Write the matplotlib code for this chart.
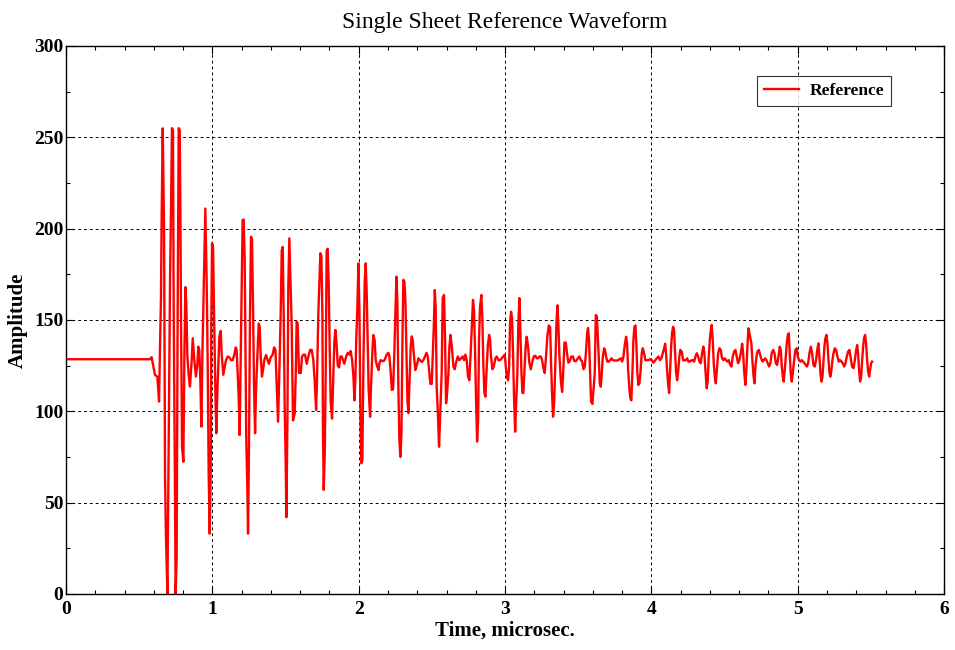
import matplotlib
matplotlib.use("Agg")
import matplotlib.pyplot as plt
from matplotlib.ticker import MultipleLocator

# waveform (time in microsec, amplitude)
time_us = [
    0.0, 0.574, 0.585, 0.608, 0.624, 0.636, 0.642, 0.649, 0.654, 0.661,
    0.670, 0.677, 0.683, 0.693, 0.702, 0.711, 0.718, 0.724, 0.731, 0.736,
    0.743, 0.749, 0.756, 0.763, 0.770, 0.777, 0.781, 0.786, 0.793, 0.802,
    0.809, 0.816, 0.822, 0.829, 0.838, 0.847, 0.859, 0.866, 0.877, 0.888,
    0.898, 0.904, 0.911, 0.918, 0.925, 0.932, 0.939, 0.945, 0.952, 0.961,
    0.968, 0.975, 0.982, 0.989, 0.993, 0.998, 1.005, 1.011, 1.021, 1.027,
    1.034, 1.041, 1.048, 1.057, 1.064, 1.075, 1.084, 1.093, 1.105, 1.116,
    1.128, 1.139, 1.150, 1.160, 1.166, 1.173, 1.180, 1.187, 1.194, 1.201,
    1.207, 1.214, 1.221, 1.226, 1.232, 1.239, 1.244, 1.251, 1.257, 1.264,
    1.271, 1.278, 1.285, 1.292, 1.298, 1.308, 1.317, 1.324, 1.330, 1.339,
    1.349, 1.355, 1.367, 1.378, 1.387, 1.399, 1.412, 1.422, 1.431, 1.440,
    1.449, 1.458, 1.467, 1.474, 1.481, 1.488, 1.494, 1.501, 1.506, 1.513,
    1.519, 1.526, 1.542, 1.551, 1.563, 1.570, 1.576, 1.583, 1.592, 1.604,
    1.613, 1.622, 1.633, 1.645, 1.656, 1.668, 1.679, 1.690, 1.699, 1.709,
    1.715, 1.724, 1.731, 1.738, 1.745, 1.752, 1.756, 1.761, 1.768, 1.775,
    1.781, 1.788, 1.795, 1.802, 1.809, 1.818, 1.825, 1.834, 1.841, 1.847,
    1.857, 1.866, 1.875, 1.884, 1.893, 1.902, 1.914, 1.925, 1.936, 1.945,
    1.955, 1.964, 1.971, 1.977, 1.984, 1.991, 1.998, 2.005, 2.012, 2.018,
    2.025, 2.032, 2.041, 2.048, 2.055, 2.062, 2.068, 2.078, 2.084, 2.094,
    2.100, 2.109, 2.116, 2.125, 2.135, 2.141, 2.150, 2.160, 2.171, 2.182,
    2.191, 2.203, 2.210, 2.219, 2.226, 2.235, 2.244, 2.251, 2.258, 2.264,
    2.271, 2.278, 2.285, 2.292, 2.299, 2.305, 2.312, 2.319, 2.326, 2.333,
    2.340, 2.346, 2.355, 2.362, 2.369, 2.378, 2.387, 2.396, 2.408, 2.419,
    2.431, 2.442, 2.453, 2.463, 2.472, 2.481, 2.490, 2.499, 2.506, 2.513,
    2.520, 2.526, 2.533, 2.542, 2.549, 2.567, 2.574, 2.583, 2.590, 2.597,
    2.604, 2.613, 2.620, 2.627, 2.636, 2.647, 2.656, 2.665, 2.677, 2.688,
    2.699, 2.711, 2.720, 2.729, 2.738, 2.747, 2.756, 2.766, 2.775, 2.781,
    2.788, 2.795, 2.802, 2.809, 2.816, 2.822, 2.829, 2.838, 2.845, 2.852,
    2.859, 2.866, 2.873, 2.882, 2.891, 2.898, 2.904, 2.914, 2.923, 2.934,
    2.943, 2.955, 2.966, 2.977, 2.989, 2.998, 3.005, 3.012, 3.021, 3.028,
    3.034, 3.041, 3.048, 3.055, 3.062, 3.069, 3.075, 3.084, 3.091, 3.098,
    3.105, 3.112, 3.119, 3.125, 3.132, 3.141, 3.148, 3.157, 3.166, 3.176,
    3.185, 3.196, 3.207, 3.217, 3.226, 3.235, 3.244, 3.253, 3.262, 3.271,
    3.280, 3.289, 3.299, 3.308, 3.315, 3.321, 3.328, 3.335, 3.344, 3.351,
    3.358, 3.365, 3.371, 3.381, 3.390, 3.397, 3.406, 3.415, 3.424, 3.433,
    3.442, 3.453, 3.463, 3.474, 3.485, 3.497, 3.508, 3.517, 3.526, 3.536,
    3.545, 3.554, 3.561, 3.567, 3.574, 3.581, 3.588, 3.597, 3.613, 3.620,
    3.627, 3.633, 3.640, 3.647, 3.654, 3.661, 3.668, 3.677, 3.683, 3.690,
    3.699, 3.709, 3.718, 3.727, 3.736, 3.747, 3.759, 3.770, 3.781, 3.791,
    3.800, 3.809, 3.818, 3.827, 3.834, 3.841, 3.850, 3.857, 3.863, 3.870,
    3.877, 3.884, 3.891, 3.898, 3.904, 3.911, 3.918, 3.925, 3.934, 3.941,
    3.950, 3.959, 3.968, 3.980, 3.991, 4.002, 4.014, 4.025, 4.037, 4.048,
    4.059, 4.068, 4.078, 4.087, 4.094, 4.100, 4.107, 4.114, 4.121, 4.128,
    4.135, 4.141, 4.148, 4.155, 4.162, 4.169, 4.176, 4.182, 4.191, 4.198,
    4.207, 4.217, 4.226, 4.235, 4.244, 4.253, 4.262, 4.271, 4.283, 4.292,
    4.301, 4.310, 4.319, 4.328, 4.337, 4.346, 4.355, 4.362, 4.369, 4.378,
    4.385, 4.392, 4.399, 4.406, 4.412, 4.419, 4.426, 4.433, 4.440, 4.447,
    4.456, 4.465, 4.474, 4.483, 4.492, 4.501, 4.510, 4.519, 4.529, 4.538,
    4.547, 4.556, 4.565, 4.574, 4.583, 4.592, 4.601, 4.611, 4.620, 4.627,
    4.633, 4.642, 4.649, 4.656, 4.663, 4.670, 4.683, 4.690, 4.697, 4.704,
    4.711, 4.718, 4.725, 4.734, 4.740, 4.750, 4.759, 4.768, 4.777, 4.786,
    4.795, 4.804, 4.813, 4.822, 4.832, 4.841, 4.850, 4.859, 4.868, 4.877,
    4.884, 4.891, 4.898, 4.904, 4.911, 4.918, 4.925, 4.932, 4.939, 4.945,
    4.952, 4.959, 4.966, 4.975, 4.984, 4.993, 5.000, 5.009, 5.018, 5.027,
    5.037, 5.046, 5.055, 5.062, 5.071, 5.080, 5.089, 5.098, 5.107, 5.116,
    5.125, 5.135, 5.141, 5.148, 5.155, 5.162, 5.169, 5.176, 5.182, 5.189,
    5.196, 5.203, 5.210, 5.217, 5.223, 5.230, 5.237, 5.244, 5.253, 5.262,
    5.271, 5.280, 5.289, 5.299, 5.308, 5.317, 5.326, 5.335, 5.344, 5.353,
    5.362, 5.371, 5.381, 5.390, 5.399, 5.406, 5.412, 5.419, 5.426, 5.433,
    5.440, 5.447, 5.453, 5.460, 5.467, 5.474, 5.481, 5.488, 5.494, 5.501,
    5.508,
]
amplitude = [
    128.5, 128.5, 129.6, 119.9, 119.0, 105.3, 133.6, 161.9, 208.4, 254.9,
    200.0, 62.4, 31.4, 0.0, 86.0, 172.0, 213.0, 255.0, 254.0, 153.7,
    77.0, 0.0, 18.6, 155.0, 255.0, 254.0, 217.5, 150.0, 80.6, 72.4,
    131.0, 168.0, 159.0, 131.0, 120.0, 113.5, 128.0, 140.0, 128.0, 119.0,
    126.0, 135.4, 133.6, 117.0, 91.6, 131.0, 159.0, 181.0, 211.0, 172.0,
    128.0, 66.0, 33.0, 68.0, 150.0, 192.0, 190.0, 157.0, 110.0, 88.0,
    110.0, 126.0, 141.0, 144.0, 131.0, 120.0, 124.0, 128.0, 130.0, 129.5,
    128.0, 128.0, 131.0, 135.0, 133.6, 121.0, 108.0, 87.0, 131.0, 170.0,
    204.7, 205.0, 183.0, 135.0, 84.0, 59.0, 33.0, 86.0, 150.0, 195.6,
    194.0, 157.0, 113.5, 88.0, 110.0, 131.0, 148.0, 146.0, 131.0, 119.0,
    124.0, 128.0, 130.8, 128.0, 126.0, 129.6, 131.0, 135.0, 133.6, 113.5,
    94.3, 122.0, 153.7, 188.0, 190.0, 150.0, 104.0, 73.0, 42.0, 95.0,
    168.0, 194.7, 148.0, 95.0, 99.0, 121.0, 149.0, 148.0, 121.0, 121.0,
    130.0, 131.0, 131.0, 126.0, 130.0, 133.6, 133.6, 128.0, 117.0, 100.7,
    117.0, 153.0, 170.0, 186.5, 185.0, 153.0, 88.0, 57.0, 77.0, 125.0,
    188.0, 189.0, 170.0, 133.6, 104.4, 96.0, 115.0, 139.0, 144.5, 139.0,
    125.0, 124.0, 130.0, 130.0, 128.0, 126.0, 130.0, 132.0, 131.0, 133.0,
    128.0, 119.0, 106.0, 117.0, 141.0, 157.0, 181.0, 155.0, 97.0, 71.5,
    73.0, 125.0, 171.0, 181.0, 164.0, 137.0, 112.0, 97.0, 113.0, 133.6,
    141.8, 139.0, 128.0, 125.0, 122.6, 126.0, 128.0, 127.5, 127.5, 129.0,
    131.0, 132.0, 130.0, 121.0, 111.7, 112.0, 133.6, 155.0, 173.7, 161.0,
    113.0, 84.0, 75.0, 88.0, 139.0, 172.0, 171.0, 161.0, 132.0, 106.0,
    99.0, 113.0, 135.0, 141.0, 139.0, 130.0, 122.6, 125.0, 129.0, 128.0,
    127.0, 128.0, 130.0, 132.0, 130.0, 122.6, 115.0, 115.0, 130.0, 146.0,
    166.4, 157.0, 113.0, 97.0, 80.6, 120.8, 162.0, 163.7, 139.0, 104.4,
    110.0, 121.0, 135.7, 141.8, 135.7, 124.6, 123.0, 126.6, 130.0, 128.0,
    129.0, 130.0, 128.0, 131.0, 128.0, 119.0, 117.0, 133.6, 150.0, 161.0,
    155.0, 133.6, 106.0, 83.4, 95.0, 139.0, 157.0, 163.7, 151.0, 124.6,
    110.0, 108.0, 121.0, 135.7, 141.8, 139.0, 130.0, 123.0, 124.6, 129.0,
    130.0, 128.0, 128.0, 129.0, 130.0, 131.0, 124.6, 119.0, 117.0, 124.6,
    148.0, 154.5, 151.0, 130.0, 106.0, 88.8, 102.5, 121.0, 148.0, 162.0,
    143.0, 121.0, 110.0, 110.0, 121.0, 135.7, 140.8, 135.7, 126.6, 123.0,
    126.6, 130.0, 130.4, 129.0, 129.0, 130.0, 130.0, 128.0, 123.6, 121.0,
    130.0, 141.0, 147.0, 146.0, 124.6, 110.0, 97.0, 104.0, 126.6, 148.0,
    158.0, 146.0, 131.4, 117.0, 110.6, 121.0, 137.6, 137.6, 131.4, 126.6,
    127.5, 130.0, 130.0, 127.5, 127.5, 129.0, 130.0, 128.0, 127.5, 123.0,
    124.6, 133.6, 143.0, 145.6, 139.0, 121.0, 105.3, 104.0, 121.0, 152.7,
    152.0, 142.7, 130.0, 115.3, 113.5, 121.0, 130.0, 134.5, 133.6, 130.0,
    127.2, 127.2, 128.0, 129.0, 128.0, 127.8, 127.8, 127.8, 128.5, 129.0,
    127.2, 130.0, 136.3, 140.8, 137.0, 122.6, 111.7, 107.0, 106.0, 121.0,
    139.0, 146.3, 147.0, 135.4, 121.0, 114.4, 115.3, 121.0, 131.8, 134.5,
    131.8, 128.0, 128.0, 128.0, 128.5, 128.0, 126.6, 127.8, 129.0, 130.0,
    128.0, 129.0, 131.8, 134.5, 137.0, 131.8, 122.6, 115.3, 110.0, 122.6,
    135.4, 142.7, 146.3, 144.5, 131.8, 121.0, 117.0, 121.0, 130.0, 133.6,
    132.7, 128.0, 127.8, 128.0, 129.0, 127.2, 127.2, 127.8, 128.0, 127.2,
    130.0, 131.8, 130.0, 127.2, 126.3, 131.8, 135.4, 131.8, 122.6, 112.6,
    117.0, 130.0, 139.0, 144.5, 147.3, 139.0, 126.3, 119.0, 115.3, 122.6,
    131.8, 134.5, 133.6, 129.0, 128.0, 129.0, 128.0, 127.2, 128.0, 125.4,
    124.5, 130.0, 132.7, 133.6, 130.0, 126.3, 128.0, 131.8, 137.0, 131.8,
    122.6, 114.4, 122.6, 135.4, 145.4, 142.7, 137.2, 128.0, 120.0, 115.3,
    124.5, 130.0, 132.7, 133.6, 131.8, 129.0, 127.2, 128.0, 129.0, 128.0,
    126.3, 124.5, 126.3, 131.8, 133.6, 131.8, 126.3, 125.4, 130.0, 135.4,
    133.6, 124.5, 119.0, 116.3, 122.6, 130.0, 137.2, 141.8, 142.7, 131.8,
    120.8, 116.3, 120.8, 128.0, 133.6, 134.5, 130.0, 128.0, 127.2, 128.0,
    127.2, 126.3, 125.4, 124.5, 126.3, 131.8, 135.4, 131.8, 125.4, 124.5,
    128.0, 134.5, 137.2, 130.0, 120.8, 116.3, 119.0, 128.0, 135.4, 140.0,
    141.8, 137.2, 128.0, 120.8, 119.0, 122.6, 128.0, 131.8, 134.5, 133.6,
    130.0, 127.2, 128.0, 127.2, 126.3, 124.5, 126.3, 130.0, 132.7, 133.6,
    129.0, 124.5, 123.6, 128.0, 133.6, 136.3, 131.8, 122.6, 116.3, 119.0,
    128.0, 135.4, 140.0, 141.8, 137.2, 128.0, 121.7, 119.0, 122.6, 126.3,
    127.2,
]

serif = ["Liberation Serif", "DejaVu Serif"]

fig = plt.figure(figsize=(9.55, 6.5), dpi=100)
ax = fig.add_axes([0.0691, 0.0862, 0.9195, 0.8431])

ax.plot(time_us, amplitude, color="red", linewidth=1.7, label="Reference")

ax.set_xlim(0, 6)
ax.set_ylim(0, 300)
ax.xaxis.set_major_locator(MultipleLocator(1))
ax.xaxis.set_minor_locator(MultipleLocator(0.2))
ax.yaxis.set_major_locator(MultipleLocator(50))
ax.yaxis.set_minor_locator(MultipleLocator(25))
ax.tick_params(which="both", direction="in", top=True, right=True, width=0.8)
ax.tick_params(which="major", length=6)
ax.tick_params(which="minor", length=3)
ax.tick_params(axis="x", which="major", pad=5)
ax.tick_params(axis="y", which="major", pad=2)
for lab in ax.get_xticklabels() + ax.get_yticklabels():
    lab.set_family(serif)
    lab.set_fontweight("bold")
    lab.set_fontsize(14)

ax.grid(True, which="major", color="black", linestyle=(0, (3, 3)), linewidth=0.7)
for sp in ax.spines.values():
    sp.set_linewidth(1.0)

ax.set_title("Single Sheet Reference Waveform", family=serif, fontsize=17, pad=13)
ax.set_xlabel("Time, microsec.", family=serif, fontsize=15, fontweight="bold", labelpad=2)
ax.set_ylabel("Amplitude", family=serif, fontsize=15, fontweight="bold", labelpad=4)

leg = ax.legend(loc="upper right", bbox_to_anchor=(0.9396, 0.945), borderaxespad=0,
                fancybox=False, edgecolor="black", handlelength=2.0, borderpad=0.4,
                handletextpad=0.6, prop={"family": serif, "weight": "bold", "size": 12.5})
leg.get_frame().set_linewidth(0.8)

fig.savefig("out.png", dpi=100)
